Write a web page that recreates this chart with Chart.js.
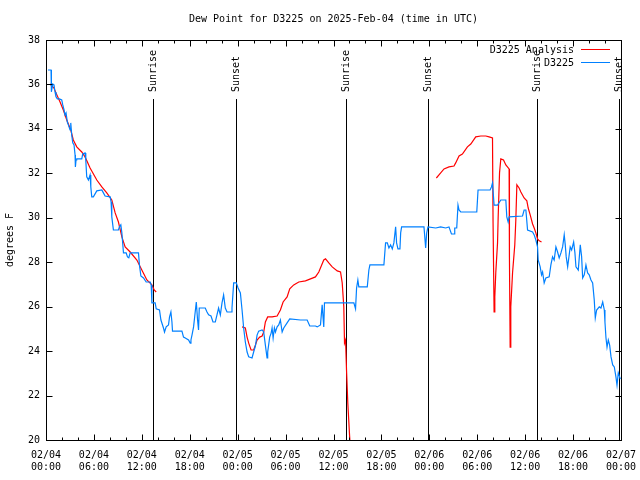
<!DOCTYPE html>
<html>
<head>
<meta charset="utf-8">
<title>Dew Point for D3225</title>
<script src="https://cdn.jsdelivr.net/npm/chart.js@4/dist/chart.umd.min.js"></script>
<style>
  html, body { margin: 0; padding: 0; background: #fff; }
  #wrap { width: 640px; height: 480px; }
</style>
</head>
<body>
<div id="wrap"><canvas id="dew"></canvas></div>
<script>
'use strict';

// hours since 2025-02-04 00:00 UTC
const obsHours = [
  0.25, 0.63, 0.63, 0.72, 0.84, 1.0, 1.13, 1.25, 1.42, 1.67,
  1.97, 2.1, 2.26, 2.38, 2.51, 2.67, 2.8, 3.01, 3.1, 3.22,
  3.35, 3.51, 3.64, 3.68, 3.76, 3.85, 4.48, 4.6, 4.89, 4.98,
  5.1, 5.31, 5.52, 5.61, 5.73, 5.93, 6.36, 6.99, 7.19, 7.4,
  8.03, 8.15, 8.24, 8.44, 9.07, 9.19, 9.37, 9.5, 9.7, 10.04,
  10.2, 10.37, 10.54, 11.58, 11.7, 11.88, 12.21, 12.54, 13.05, 13.17,
  13.26, 13.67, 13.8, 14.21, 14.39, 14.71, 14.84, 15.05, 15.34, 15.47,
  15.64, 15.77, 15.84, 17.02, 17.22, 17.44, 17.85, 18.06, 18.15, 18.28,
  18.48, 18.6, 18.82, 18.98, 19.1, 19.19, 19.94, 20.16, 20.36, 20.66,
  20.91, 21.2, 21.41, 21.61, 21.83, 22.04, 22.24, 22.45, 22.67, 23.17,
  23.29, 23.5, 23.83, 24.05, 24.34, 24.55, 24.75, 24.96, 25.18, 25.38,
  25.8, 26.0, 26.22, 26.43, 26.63, 27.06, 27.26, 27.47, 27.68, 27.76,
  28.01, 28.19, 28.31, 28.44, 28.6, 28.73, 28.94, 29.14, 29.35, 29.57,
  29.77, 30.19, 30.52, 31.86, 32.7, 33.03, 33.74, 33.96, 34.37, 34.58,
  34.78, 34.87, 38.55, 38.76, 38.89, 39.05, 39.17, 40.23, 40.43, 40.56,
  42.31, 42.52, 42.74, 42.94, 43.15, 43.36, 43.56, 43.78, 43.9, 44.07,
  44.32, 44.41, 44.53, 47.33, 47.54, 47.67, 47.83, 48.8, 49.42, 50.05,
  50.46, 50.77, 51.09, 51.18, 51.43, 51.59, 51.72, 51.93, 53.94, 54.1,
  55.61, 55.78, 55.91, 56.11, 56.54, 56.95, 57.58, 57.7, 57.87, 57.99,
  59.67, 59.87, 60.09, 60.3, 60.93, 61.13, 61.34, 61.55, 61.63, 61.88,
  62.05, 62.18, 62.38, 62.59, 63.01, 63.22, 63.43, 63.63, 63.85, 64.06,
  64.26, 64.48, 64.69, 64.89, 65.02, 65.14, 65.32, 65.64, 65.82, 66.07,
  66.23, 66.36, 66.65, 66.9, 67.07, 67.2, 67.4, 67.61, 67.82, 68.02,
  68.24, 68.45, 68.65, 68.78, 68.95, 69.28, 69.49, 69.71, 69.91, 69.99,
  70.12, 70.25, 70.41, 70.58, 70.75, 70.96, 71.16, 71.37, 71.5, 71.66,
  71.84, 71.91
];
const obsValues = [
  36.65, 36.65, 35.98, 35.67, 36.02, 35.98, 35.66, 35.44, 35.35, 35.35,
  35.3, 35.08, 34.85, 34.63, 34.72, 34.31, 34.18, 33.95, 34.27, 33.73,
  33.37, 33.28, 32.83, 32.29, 32.6, 32.65, 32.65, 32.87, 32.92, 32.6,
  31.84, 31.7, 31.93, 31.39, 30.94, 30.94, 31.21, 31.25, 31.12, 30.98,
  30.94, 30.71, 30.04, 29.45, 29.45, 29.59, 29.68, 29.32, 28.42, 28.42,
  28.24, 28.2, 28.42, 28.42, 27.88, 27.38, 27.29, 27.11, 27.11, 26.98,
  26.17, 26.17, 25.9, 25.85, 25.4, 25.04, 24.86, 25.09, 25.18, 25.54,
  25.76, 25.31, 24.9, 24.9, 24.63, 24.59, 24.5, 24.36, 24.5, 24.72,
  25.09, 25.49, 26.21, 25.4, 24.95, 25.94, 25.94, 25.76, 25.63, 25.58,
  25.31, 25.31, 25.63, 25.94, 25.63, 26.17, 26.53, 25.94, 25.76, 25.76,
  25.94, 27.07, 27.07, 26.84, 26.62, 25.85, 25.04, 24.41, 23.96, 23.74,
  23.69, 23.96, 24.23, 24.72, 24.9, 24.95, 24.86, 24.27, 23.69, 23.96,
  24.63, 24.81, 25.04, 24.59, 25.04, 24.86, 25.09, 25.18, 25.4, 24.86,
  25.04, 25.27, 25.45, 25.4, 25.4, 25.13, 25.13, 25.09, 25.18, 26.08,
  25.09, 26.17, 26.17, 25.9, 26.84, 27.2, 26.89, 26.89, 27.65, 27.88,
  27.88, 28.87, 28.87, 28.64, 28.78, 28.6, 28.87, 29.59, 28.87, 28.6,
  28.6, 29.32, 29.59, 29.59, 28.64, 29.32, 29.59, 29.54, 29.59, 29.54,
  29.59, 29.27, 29.27, 29.54, 29.54, 30.57, 30.35, 30.26, 30.26, 31.25,
  31.25, 31.39, 31.57, 30.57, 30.57, 30.8, 30.8, 30.04, 29.81, 30.04,
  30.08, 30.35, 30.35, 29.45, 29.36, 29.23, 29.0, 28.69, 28.1, 27.79,
  27.43, 27.56, 27.07, 27.29, 27.34, 27.88, 28.24, 28.1, 28.69, 28.46,
  28.19, 28.42, 28.69, 29.23, 28.78, 28.24, 27.79, 28.69, 28.55, 28.91,
  28.42, 27.79, 27.65, 28.78, 28.24, 27.29, 27.43, 27.88, 27.52, 27.43,
  27.2, 27.07, 26.3, 25.49, 25.85, 25.99, 25.94, 26.21, 25.85, 25.31,
  24.59, 24.18, 24.5, 24.27, 23.74, 23.38, 23.29, 22.83, 22.47, 23.02,
  22.83, 22.74
];

// analysis series, null marks a break in the line
const anaHours = [
  0.5, 1.0, 1.25, 1.76, 2.17, 2.6, 3.1, 3.42, 3.85, 4.48,
  4.89, 5.52, 6.36, 6.99, 7.61, 8.24, 8.66, 9.07, 9.5, 9.91,
  10.54, 11.38, 12.0, 12.63, 13.26, 13.55, 13.8,
  19,
  24.55, 24.96, 25.18, 25.38, 25.68, 26.0, 26.22, 26.43, 26.76, 27.06,
  27.26, 27.47, 27.76, 28.31, 28.94, 29.35, 29.69, 30.19, 30.52, 31.02,
  31.65, 32.49, 33.12, 33.74, 34.16, 34.78, 35.0, 35.41, 35.84, 36.47,
  36.88, 37.09, 37.29, 37.38, 37.51, 37.63, 37.79, 38.01, 38.13,
  43,
  48.88, 49.21, 49.84, 50.46, 51.09, 51.3, 51.72, 52.14, 52.77, 53.19,
  53.81, 54.44, 55.07, 55.48, 55.91, 55.98, 56.11, 56.2, 56.32, 56.54,
  56.62, 56.79, 56.95, 57.29, 57.58, 57.99, 58.03, 58.12, 58.2, 58.42,
  58.7, 58.83, 58.96, 59.24, 59.46, 59.87, 60.21, 60.38, 60.63, 60.93,
  61.13, 61.34, 61.55, 61.76, 62.05
];
const anaValues = [
  36.02, 35.84, 35.62, 35.21, 34.85, 34.4, 33.95, 33.5, 33.19, 32.96,
  32.74, 32.24, 31.7, 31.39, 31.12, 30.8, 30.22, 29.81, 29.14, 28.69,
  28.46, 28.1, 27.65, 27.2, 26.98, 26.75, 26.66,
  null,
  25.09, 25.04, 24.63, 24.36, 24.05, 24.05, 24.27, 24.5, 24.63, 24.68,
  24.86, 25.31, 25.54, 25.54, 25.58, 25.85, 26.21, 26.44, 26.8, 26.98,
  27.11, 27.16, 27.25, 27.34, 27.56, 28.1, 28.15, 27.97, 27.79, 27.61,
  27.56, 27.07, 25.99, 24.36, 24.5, 23.15, 21.67, 20.22, 19.5,
  null,
  31.79, 31.93, 32.2, 32.29, 32.33, 32.47, 32.78, 32.87, 33.19, 33.32,
  33.64, 33.68, 33.68, 33.64, 33.59, 29.77, 25.76, 26.44, 27.52, 28.87,
  30.04, 32.02, 32.65, 32.6, 32.38, 32.2, 28.24, 24.18, 25.99, 27.52,
  28.78, 29.9, 31.48, 31.34, 31.16, 30.89, 30.76, 30.44, 30.13, 29.72,
  29.54, 29.32, 29.05, 28.96, 28.91
];

const tickDays = ['02/04', '02/04', '02/04', '02/04', '02/05', '02/05', '02/05',
  '02/05', '02/06', '02/06', '02/06', '02/06', '02/07'];
const tickTimes = ['00:00', '06:00', '12:00', '18:00', '00:00', '06:00', '12:00',
  '18:00', '00:00', '06:00', '12:00', '18:00', '00:00'];

const eventHours = [13.45, 23.8, 37.6, 47.85, 61.45, 71.69];
const eventLabels = ['Sunrise', 'Sunset', 'Sunrise', 'Sunset', 'Sunrise', 'Sunset'];

const FONT = '"DejaVu Sans Mono", "Liberation Mono", monospace';
const RED = '#ff0000';
const BLUE = '#0080ff';

function toPoints(hours, values) {
  return hours.map(function (h, i) {
    return { x: h, y: values[i] };
  });
}

// gnuplot look: full frame, inward ticks, event markers, legend, title
const gnuplotDecor = {
  id: 'gnuplotDecor',
  beforeDatasetsDraw(chart) {
    const ctx = chart.ctx;
    const area = chart.chartArea;
    const xs = chart.scales.x;
    ctx.save();
    ctx.strokeStyle = '#000';
    ctx.lineWidth = 1;
    ctx.fillStyle = '#000';
    ctx.font = '10px ' + FONT;
    eventHours.forEach(function (h, i) {
      const px = Math.round(xs.getPixelForValue(h)) + 0.5;
      ctx.beginPath();
      ctx.moveTo(px, area.top + 59);
      ctx.lineTo(px, area.bottom);
      ctx.stroke();
      ctx.save();
      ctx.translate(px, area.top + 52);
      ctx.rotate(-Math.PI / 2);
      ctx.textAlign = 'left';
      ctx.textBaseline = 'middle';
      ctx.fillText(eventLabels[i], 0, 0);
      ctx.restore();
    });
    ctx.restore();
  },
  afterDraw(chart) {
    const ctx = chart.ctx;
    const area = chart.chartArea;
    const xs = chart.scales.x;
    const ys = chart.scales.y;
    const l = Math.round(area.left) + 0.5;
    const r = Math.round(area.right) + 0.5;
    const t = Math.round(area.top) + 0.5;
    const b = Math.round(area.bottom) + 0.5;
    ctx.save();
    ctx.strokeStyle = '#000';
    ctx.lineWidth = 1;
    ctx.strokeRect(l, t, r - l, b - t);

    ctx.beginPath();
    for (let h = xs.min; h <= xs.max; h += 2) {
      const px = Math.round(xs.getPixelForValue(h)) + 0.5;
      const len = h % 6 === 0 ? 6 : 3;
      ctx.moveTo(px, b); ctx.lineTo(px, b - len);
      ctx.moveTo(px, t); ctx.lineTo(px, t + len);
    }
    ys.ticks.forEach(function (tk) {
      const py = Math.round(ys.getPixelForValue(tk.value)) + 0.5;
      ctx.moveTo(l, py); ctx.lineTo(l + 6, py);
      ctx.moveTo(r, py); ctx.lineTo(r - 6, py);
    });
    ctx.stroke();

    ctx.fillStyle = '#000';
    ctx.font = '10px ' + FONT;
    ctx.textBaseline = 'middle';
    ctx.textAlign = 'center';
    ctx.fillText('Dew Point for D3225 on 2025-Feb-04 (time in UTC)', (area.left + area.right) / 2, 19.5);

    // legend
    const names = ['D3225 Analysis', 'D3225'];
    const colors = [RED, BLUE];
    ctx.textAlign = 'right';
    names.forEach(function (name, i) {
      const y = area.top + 10 + i * 13;
      ctx.fillStyle = '#000';
      ctx.fillText(name, area.right - 47, y + 0.5);
      ctx.strokeStyle = colors[i];
      ctx.beginPath();
      ctx.moveTo(area.right - 40, Math.round(y) - 0.5);
      ctx.lineTo(area.right - 11, Math.round(y) - 0.5);
      ctx.stroke();
    });
    ctx.restore();
  }
};

Chart.defaults.font.family = FONT;
Chart.defaults.font.size = 10;
Chart.defaults.color = '#000';

new Chart(document.getElementById('dew'), {
  type: 'line',
  data: {
    datasets: [
      {
        label: 'D3225',
        data: toPoints(obsHours, obsValues),
        borderColor: BLUE,
        borderWidth: 1.2,
        pointRadius: 0,
        tension: 0,
        order: 0
      },
      {
        label: 'D3225 Analysis',
        data: toPoints(anaHours, anaValues),
        borderColor: RED,
        borderWidth: 1.2,
        pointRadius: 0,
        tension: 0,
        spanGaps: false,
        order: 1
      }
    ]
  },
  options: {
    responsive: true,
    maintainAspectRatio: false,
    animation: false,
    events: [],
    layout: { padding: { top: 40, right: 19, left: 0, bottom: 0 } },
    plugins: {
      legend: { display: false },
      title: { display: false },
      tooltip: { enabled: false }
    },
    scales: {
      x: {
        type: 'linear',
        min: 0,
        max: 72,
        grid: { display: false, drawTicks: false },
        border: { display: false },
        afterFit: function (scale) {
          scale.height = 40;
          scale.paddingLeft = 0;
          scale.paddingRight = 0;
        },
        ticks: {
          stepSize: 6,
          autoSkip: false,
          maxRotation: 0,
          padding: 9,
          color: '#000',
          callback: function (value, index) {
            return [tickDays[index], tickTimes[index]];
          }
        }
      },
      y: {
        min: 20,
        max: 38,
        grid: { display: false, drawTicks: false },
        border: { display: false },
        afterFit: function (scale) {
          scale.width = 46;
          scale.paddingTop = 0;
          scale.paddingBottom = 0;
        },
        title: {
          display: true,
          text: 'degrees F',
          color: '#000',
          padding: { top: 4, bottom: 0 }
        },
        ticks: {
          stepSize: 2,
          padding: 6,
          color: '#000'
        }
      }
    }
  },
  plugins: [gnuplotDecor]
});
</script>
</body>
</html>
